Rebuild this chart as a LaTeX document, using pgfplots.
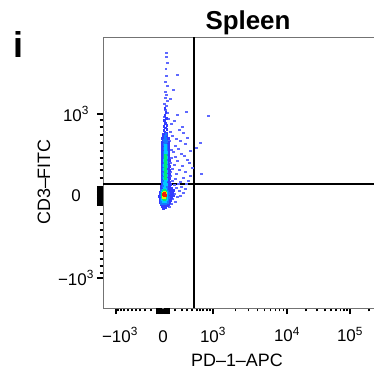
\documentclass[border=0pt]{standalone}
\usepackage{pgfplots}
\pgfplotsset{compat=1.18}
\usepackage{fontspec}
\setmainfont{Liberation Sans}
\definecolor{dB}{RGB}{50,60,255}
\definecolor{dS}{RGB}{95,105,255}
\definecolor{dLB}{RGB}{20,120,255}
\definecolor{dC}{RGB}{0,200,255}
\definecolor{dG}{RGB}{0,235,120}
\definecolor{dY}{RGB}{235,235,0}
\definecolor{dR}{RGB}{245,30,0}
\pgfplotsset{every non boxed y axis/.style={}, every non boxed x axis/.style={}}
\begin{document}
\begin{tikzpicture}[x=1bp,y=1bp]
\node[anchor=base, font=\bfseries\fontsize{26}{26}\selectfont] at (248,345) {Spleen};
\node[anchor=base west, font=\bfseries\fontsize{36}{36}\selectfont] at (10,317) {i};
\begin{axis}[
  at={(103,66)}, anchor=south west,
  scale only axis, width=275bp, height=271bp,
  xmin=-60, xmax=215, ymin=-112, ymax=159,
  enlargelimits=false,
  axis x line=box, axis y line=left,
  axis line style={draw=black!55, line width=0.9bp, -},
  tick align=outside, xtick pos=left, ytick pos=left,
  major tick length=6bp, minor tick length=3.5bp,
  every tick/.style={black, line width=1.3bp},
  /pgf/number format/assume math mode=true,
  tick label style={font=\fontsize{17}{17}\selectfont},
  xtick={-47,0,50,124,187},
  xticklabels={\hspace*{8bp}−10\textsuperscript{3}, \vphantom{1\textsuperscript{3}}0, 10\textsuperscript{3}, 10\textsuperscript{4}, 10\textsuperscript{5}},
  minor xtick={-45,-42,-39,-35,-31,-27,-23,-18,-12,12,19,24,29,34,37,40,44,47,72.3,85.3,94.6,101.7,107.6,112.5,116.8,120.6,143,154.1,161.9,168,173,177.2,180.9,184.1,206},
  extra x ticks={-6,-4.8,-3.6,-2.4,-1.2,1.2,2.4,3.6,4.8,6},
  extra x tick labels={},
  extra x tick style={major tick length=6bp},
  ytick={-82,0,82},
  yticklabels={−10\textsuperscript{3}, 0, 10\textsuperscript{3}},
  minor ytick={18,26,32,38,45,53,61,69,76,-18,-27,-34,-41,-48,-55,-63,-70,-77},
  extra y ticks={-9,-7.5,-6,-4.5,-3,-1.5,1.5,3,4.5,6,7.5,9},
  extra y tick labels={},
  extra y tick style={major tick length=6bp},
  xticklabel style={yshift=-10bp},
  yticklabel style={anchor=center, xshift=-21bp},
]
% sparse blue points
\addplot[only marks, mark=square*, mark size=0.7bp, color=dS] coordinates {
(3,143) (3,139) (4,133) (2.5,127) (3,120) (2,114) (4,110) (2,104) (3,101) (2,98) (4,95) (1,92) (3,90) (2,86) (4,83) (1,79) (5,77)
(14,121) (10,106) (7,97) (23,84) (14,81) (45,80) (19,69) (16,66) (20,63) (8,72) (11,75) (9,60) (13,57) (17,55) (22,52) (12,50) (15,47) (27,45) (18,42) (21,40) (10,44) (24,36) (26,33) (14,35) (19,30) (29,28) (8,38) (11,31) (16,26) (22,24) (27,20) (13,22) (9,27) (20,18) (25,15) (17,14) (12,17) (7,20) (33,48) (37,53) (38,22) (6,55) (7,64) (24,58) (15,12) (18,9) (22,7) (20,3) (16,5) (13,8) (11,2) (14,-1) (9,-3) (12,-6) (17,0) (8,-8) (6,-11) (8,46) (7,33) (9,15) (11,11) (23,12) (7,24) (12,39)
};
% dense blue column
\addplot[only marks, mark=square*, mark size=0.85bp, color=dB] coordinates {
(0.3,-12) (2.1,-11.5)
(-1.2,-10) (0.8,-9.6) (2.6,-10.2) (4.4,-9.8)
(-2.1,-8) (-0.2,-7.7) (1.7,-8.2) (3.6,-7.9) (5.5,-8.1)
(-3,-6) (-1.1,-6.2) (0.9,-5.8) (2.8,-6.1) (4.7,-5.9) (6.6,-6.3)
(-3.4,-4) (-1.9,-3.8) (0,-4.2) (2,-4) (3.9,-3.7) (5.8,-4.1) (7.7,-4.3)
(-3.1,-2) (-1,-2.2) (1,-1.8) (3,-2.1) (4.9,-1.9) (6.9,-2.2) (8.8,-1.8)
(-3.5,0) (-1.6,0.2) (0.4,-0.2) (2.4,0.1) (4.3,-0.1) (6.2,0.3) (8.1,-0.2) (10.2,0.2)
(-3,2) (-1,2.2) (1,1.8) (3,2.1) (5,1.9) (7,2.2) (9.3,1.8)
(-2.7,4) (-0.7,4.2) (1.3,3.8) (3.3,4.1) (5.3,3.9) (7.4,4.2) (9.6,3.9)
(-2.2,6) (-0.2,6.1) (1.8,5.8) (3.8,6.2) (5.9,6) (8,5.8) (10.8,6.1)
(-1.8,8) (0.2,8.2) (2.2,7.8) (4.2,8.1) (6.3,8) (8.6,8.2)
(-1.5,10) (0.5,10.1) (2.5,9.8) (4.5,10.2) (6.6,9.9)
(-1.2,12) (0.8,12.2) (2.8,11.8) (4.8,12.1) (7,12)
(-1.4,14) (0.6,13.8) (2.6,14.2) (4.6,14) (6.5,13.9)
(-1,16) (1,16.2) (3,15.8) (5,16.1)
(-1.3,18) (0.7,18.2) (2.7,17.8) (4.7,18.1) (6.4,18)
(-0.9,20) (1.1,19.8) (3.1,20.2) (5.1,20)
(-1.2,22) (0.8,22.1) (2.8,21.9) (4.8,22.2) (6.2,21.8)
(-1,24) (1,24.2) (3,23.8) (5,24.1)
(-1.3,26) (0.7,25.8) (2.7,26.2) (4.7,26) (6,26.1)
(-0.9,28) (1.1,28.1) (3.1,27.9) (5.1,28.2)
(-1.1,30) (0.9,30.2) (2.9,29.8) (4.9,30.1) (6.3,30)
(-0.8,32) (1.2,31.8) (3.2,32.2) (5.2,32)
(-1.2,34) (0.8,34.1) (2.8,33.9) (4.8,34.2)
(-0.9,36) (1.1,36.2) (3.1,35.8) (5.1,36.1) (6.5,36)
(-1,38) (1,37.9) (3,38.1) (5,38)
(-0.8,40) (1.2,40.2) (3.2,39.8) (5.2,40.1)
(-1.1,42) (0.9,41.8) (2.9,42.2) (4.9,42)
(-0.7,44) (1.3,44.1) (3.3,43.9) (5.3,44.2)
(-0.9,46) (1.1,46.2) (3.1,45.8) (5.1,46)
(-0.6,48) (1.4,47.9) (3.4,48.1) (5.4,48)
(-0.8,50) (1.2,50.2) (3.2,49.8) (5,50.1)
(-0.5,52) (1.5,51.8) (3.5,52.2) (5.3,52)
(-0.7,54) (1.3,54.1) (3.3,53.9) (5,54.2)
(-0.4,56) (1.6,56.2) (3.6,55.8)
(-0.6,58) (1.4,57.9) (3.4,58.1) (5.1,58)
(-0.3,60) (1.7,60.2) (3.7,59.8)
(0.5,62) (3.5,62.5) (1.8,63.8) (0.6,66) (3.6,66.5) (2,68.2) (0.8,70) (3.8,71) (2.2,73) (1,75.5) (3,77.5) (1.6,80.5) (2.8,84) (1.8,88)
};
% light blue
\addplot[only marks, mark=square*, mark size=0.85bp, color=dLB] coordinates {
(0.5,6) (2.5,6.5) (1.5,8) (3.5,8.5) (0.5,10) (2.5,10.5) (1.5,12.5) (3.3,12) (0.3,14.5) (2.3,14) (1.3,16.5) (3.3,16) (0.5,18.5) (2.5,18) (1.5,20.5) (3.5,21) (0.5,22.5) (2.5,23) (1.5,25) (3.3,24.5) (0.5,27) (2.5,27.5) (1.5,29) (3.5,29.5) (0.5,31) (2.5,31.5) (1.5,33.5) (3.3,33) (0.7,35.5) (2.7,35) (1.5,37.5) (3.5,37) (0.8,39.5) (2.8,39) (1.5,41.5) (3.3,41) (0.9,43.5) (2.9,43) (1.7,45.5) (3.5,45) (1,47.5) (2.9,47) (2,49.5) (3.6,49) (1.2,51.5) (3,51) (2.2,53.5) (1.4,55.5) (3.2,55) (2.3,57.5) (1.6,59.5) (2.6,61.5)
(-1.5,-7) (0.5,-7.5) (2.5,-7.2) (-1,-6) (1,-6.5) (3,-6) (4.5,-6.5) (0,-4) (2,-4.5) (4,-4) (-2,-3) (-1,-2) (1,-2.5) (3,-2) (5,-1.5) (0,0.5) (4,0.5) (-1,2.5) (3.8,2.5) (5,3) (0,4.5) (4,4.5) (-1.5,0.5) (-1.5,-4.5) (-2,1.5) (-1.5,5.5) (3.5,6.5) (1.5,9)
};
% cyan
\addplot[only marks, mark=square*, mark size=0.85bp, color=dC] coordinates {
(1.8,10.5) (3,11.5) (1.2,13) (2.6,13.5) (1.8,15.5) (3,16.5) (1.4,17.5) (2.6,18.5) (2,20) (3.2,20.5) (1.4,22) (2.6,22.5) (2,24.5) (3.2,25) (1.3,26.5) (2.5,27) (2,29) (3.1,29.5) (1.5,31) (2.6,31.5) (2,33.5) (3,34) (1.5,35.5) (2.6,36) (2.1,38) (3,38.5) (1.7,40) (2.7,40.5) (2.2,42.5) (3,43.5) (1.8,45) (2.6,46) (2.4,48) (2,50.5)
(0,-5) (2,-5.5) (-1,-3.5) (1,-3.8) (3,-3.5) (-1.2,-1) (3.4,-1) (-1.3,1.5) (3.5,1.5) (-1,4) (3.2,4) (0,6) (2,6.5) (1,7.5) (0.5,-1.5) (2.5,-1.5)
};
% green
\addplot[only marks, mark=square*, mark size=0.85bp, color=dG] coordinates {
(2,18) (2.8,19.5) (1.6,21) (2.6,22) (2.1,23.5) (1.6,25) (2.7,26) (2.2,27.5) (1.7,29) (2.7,30) (2.1,31.5) (1.8,33) (2.6,34) (2.2,35.5) (1.9,37) (2.5,38.5) (2.2,40.5)
(0,-2.5) (2,-2.8) (-0.6,0) (2.8,-0.3) (-0.5,2.5) (2.8,2.5) (0,4.8) (2,5) (1,-3.2) (1,5.5)
};
% yellow
\addplot[only marks, mark=square*, mark size=0.85bp, color=dY] coordinates {
(0.4,-1) (1.8,-1.2) (0,1) (2.4,1) (0.2,3) (2.2,3.2) (1,4) (1.2,-1.5)
};
% red
\addplot[only marks, mark=square*, mark size=1.2bp, color=dR] coordinates {
(1,1) (1.4,2.2) (0.8,1.8) (1.5,0.8)
};
% gates
\addplot[black, line width=1.6bp] coordinates {(31,-112) (31,159)};
\addplot[black, line width=1.6bp] coordinates {(-60,12) (215,12)};
\end{axis}
\node[anchor=base, font=\fontsize{18}{18}\selectfont] at (237,8) {PD–1–APC};
\node[anchor=base, rotate=90, font=\fontsize{18}{18}\selectfont] at (50,192) {CD3–FITC};
\pgfresetboundingbox
\useasboundingbox (0,0) rectangle (374,374);
\end{tikzpicture}
\end{document}
